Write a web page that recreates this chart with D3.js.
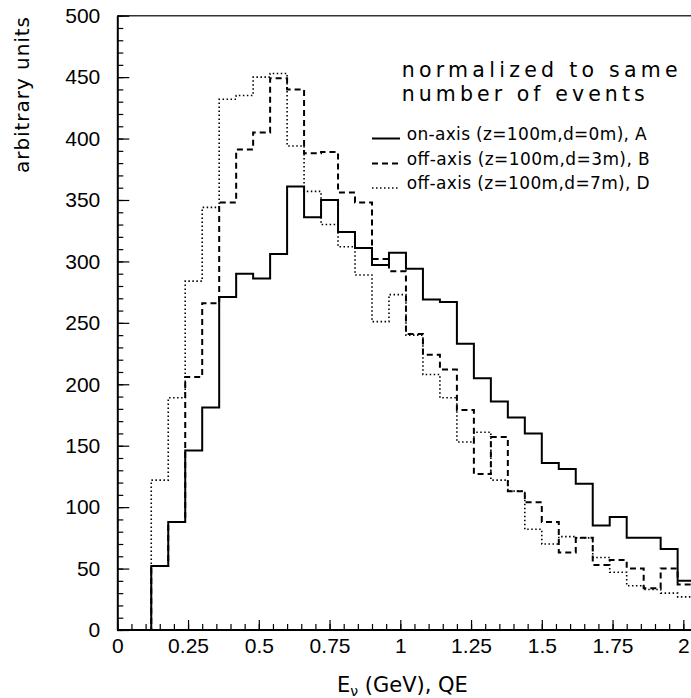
<!doctype html>
<html lang="en">
<head>
  <meta charset="utf-8">
  <title>Neutrino energy spectra</title>
  <script src="https://d3js.org/d3.v7.min.js"></script>
  <style>
    html, body { margin: 0; padding: 0; background: #fff; }
    svg { display: block; font-family: "DejaVu Sans", sans-serif; }
    .hist { fill: none; }
    .axis path, .axis line { stroke: #000; }
    .axis text { font-size: 21px; fill: #000; }
  </style>
</head>
<body>
  <div id="chart"></div>
  <script>
    // bin edges in GeV (bin width 0.06)
    const binEdges = [0, 0.06, 0.12, 0.18, 0.24, 0.30, 0.36, 0.42, 0.48, 0.54, 0.60, 0.66,
      0.72, 0.78, 0.84, 0.90, 0.96, 1.02, 1.08, 1.14, 1.20, 1.26, 1.32, 1.38, 1.44,
      1.50, 1.56, 1.62, 1.68, 1.74, 1.80, 1.86, 1.92, 1.98, 2.04];

    const onAxisA = [0, 0, 52, 88, 146, 181, 271, 290, 286, 306, 361, 336, 350, 324, 311, 297,
      307, 294, 269, 267, 233, 205, 186, 173, 160, 136, 131, 119, 85, 92, 75, 75, 66, 40];
    const offAxisB = [0, 0, 52, 88, 206, 266, 348, 391, 405, 449, 440, 388, 389, 356, 348, 302,
      292, 241, 224, 212, 179, 127, 157, 113, 104, 88, 63, 75, 53, 57, 50, 34, 50, 37];
    const offAxisD = [0, 0, 122, 189, 284, 344, 432, 435, 450, 453, 394, 357, 330, 312, 289, 251,
      273, 240, 208, 189, 153, 161, 122, 113, 82, 70, 76, 75, 59, 47, 36, 33, 30, 27];

    const seriesLabels = ["on-axis (z=100m,d=0m), A", "off-axis (z=100m,d=3m), B", "off-axis (z=100m,d=7m), D"];
    const xTicks = [0, 0.25, 0.5, 0.75, 1, 1.25, 1.5, 1.75, 2];
    const xTickLabels = ["0", "0.25", "0.5", "0.75", "1", "1.25", "1.5", "1.75", "2"];
    const yTicks = [0, 50, 100, 150, 200, 250, 300, 350, 400, 450, 500];

    const width = 691, height = 698;
    const x = d3.scaleLinear().domain([0, 2]).range([117.3, 683.3]);
    const y = d3.scaleLinear().domain([0, 500]).range([630, 15.7]);
    const plotRight = 700;

    const svg = d3.select('#chart').append('svg')
      .attr('width', width).attr('height', height);

    svg.append('clipPath').attr('id', 'plot-clip')
      .append('rect')
        .attr('x', x(0)).attr('y', y(500) - 2)
        .attr('width', plotRight - x(0)).attr('height', y(0) - y(500) + 2);

    // frame top line
    svg.append('line')
      .attr('x1', x(0)).attr('x2', plotRight)
      .attr('y1', y(500)).attr('y2', y(500))
      .attr('stroke', '#333').attr('stroke-width', 1.5);

    // y axis: minor then major ticks, pointing inside
    svg.append('g').attr('class', 'axis')
      .attr('transform', `translate(${x(0)},0)`)
      .call(d3.axisLeft(y).tickValues(d3.range(0, 501, 10)).tickSize(-6).tickFormat(''))
      .call(g => g.select('.domain').remove())
      .selectAll('line').attr('stroke', '#333').attr('stroke-width', 1.2);
    svg.append('g').attr('class', 'axis')
      .attr('transform', `translate(${x(0)},0)`)
      .call(d3.axisLeft(y).tickValues(yTicks).tickSize(-12).tickSizeOuter(0).tickPadding(17))
      .call(g => g.select('.domain').attr('stroke-width', 2))
      .call(g => g.selectAll('line').attr('stroke', '#333').attr('stroke-width', 1.2));

    // x axis
    svg.append('g').attr('class', 'axis')
      .attr('transform', `translate(0,${y(0)})`)
      .call(d3.axisBottom(x).tickValues(d3.range(0, 41).map(i => i * 0.05)).tickSize(-6).tickFormat(''))
      .call(g => g.select('.domain').remove())
      .selectAll('line').attr('stroke', '#333').attr('stroke-width', 1.2);
    svg.append('g').attr('class', 'axis')
      .attr('transform', `translate(0,${y(0)})`)
      .call(d3.axisBottom(x).tickValues(xTicks).tickSize(-10).tickSizeOuter(0).tickPadding(8)
        .tickFormat((d, i) => xTickLabels[i]))
      .call(g => g.select('.domain').remove())
      .call(g => g.selectAll('line').attr('stroke', '#333').attr('stroke-width', 1.2));
    svg.append('line')
      .attr('x1', x(0)).attr('x2', plotRight)
      .attr('y1', y(0)).attr('y2', y(0))
      .attr('stroke', '#000').attr('stroke-width', 2);

    // histograms
    const styles = [
      { data: onAxisA, dash: null, w: 2 },
      { data: offAxisB, dash: '6,4', w: 2 },
      { data: offAxisD, dash: '1.5,2.5', w: 1.6 }
    ];
    const line = d3.line()
      .x(d => x(d[0])).y(d => y(d[1]))
      .curve(d3.curveStepAfter);

    const plot = svg.append('g').attr('clip-path', 'url(#plot-clip)');
    styles.slice().reverse().forEach(s => {
      const pts = s.data.map((v, i) => [binEdges[i], v]);
      pts.push([binEdges[binEdges.length - 1], s.data[s.data.length - 1]]);
      plot.append('path')
        .datum(pts)
        .attr('class', 'hist')
        .attr('stroke', '#000')
        .attr('stroke-width', s.w)
        .attr('stroke-dasharray', s.dash)
        .attr('d', line);
    });

    // legend
    svg.append('text').attr('x', 401.7).attr('y', 77)
      .attr('font-size', 20.5).attr('textLength', 276).attr('lengthAdjust', 'spacing')
      .text('normalized to same');
    svg.append('text').attr('x', 401.7).attr('y', 101)
      .attr('font-size', 20.5).attr('textLength', 243).attr('lengthAdjust', 'spacing')
      .text('number of events');

    const legendY = [138.5, 163.5, 188];
    styles.forEach((s, i) => {
      svg.append('line')
        .attr('x1', 372).attr('x2', 400)
        .attr('y1', legendY[i]).attr('y2', legendY[i])
        .attr('stroke', '#000').attr('stroke-width', s.w)
        .attr('stroke-dasharray', s.dash);
      svg.append('text')
        .attr('x', 406.7).attr('y', legendY[i] + 1)
        .attr('font-size', 17)
        .attr('textLength', i === 0 ? 240 : 243).attr('lengthAdjust', 'spacing')
        .text(seriesLabels[i]);
    });

    // axis titles
    svg.append('text')
      .attr('transform', 'rotate(-90)')
      .attr('x', -17).attr('y', 29)
      .attr('text-anchor', 'end')
      .attr('font-size', 20).attr('textLength', 156).attr('lengthAdjust', 'spacing')
      .text('arbitrary units');

    const xt = svg.append('text')
      .attr('x', 337).attr('y', 692)
      .attr('font-size', 21);
    xt.append('tspan').text('E');
    xt.append('tspan').attr('font-size', 14).attr('dy', 4).text('ν');
    xt.append('tspan').attr('dy', -4).text(' (GeV), QE');
  </script>
</body>
</html>
